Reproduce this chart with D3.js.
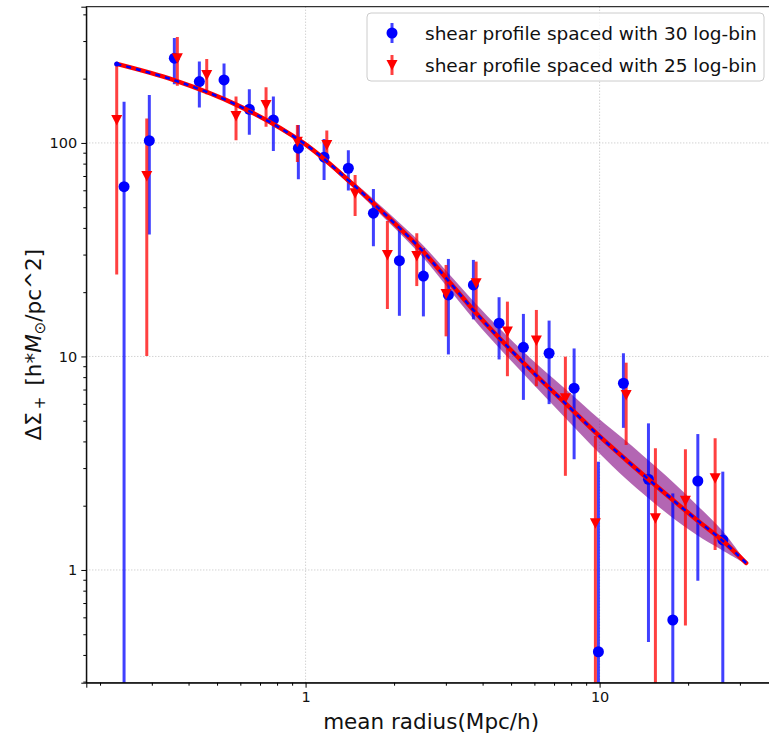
<!DOCTYPE html>
<html>
<head>
<meta charset="utf-8">
<script src="https://cdn.jsdelivr.net/npm/d3@7"></script>
<style>
  body { margin: 0; background: #fff; }
  svg { display: block; font-family: "DejaVu Sans", sans-serif; }
</style>
</head>
<body>
<svg id="chart" width="769" height="737"></svg>
<script>
// shear profile, 30 log-bins: radius (Mpc/h), delta sigma, symmetric error
const blueX = [0.2414, 0.2942, 0.3579, 0.4353, 0.5281, 0.6438, 0.7771, 0.9452, 1.156, 1.398,
  1.701, 2.085, 2.516, 3.060, 3.722, 4.551, 5.506, 6.733, 8.190, 9.906,
  12.05, 14.66, 17.74, 21.58, 26.24]
const blueY = [62.4, 102.5, 249.3, 193.7, 197.3, 143.8, 128.2, 94.5, 85.7, 76.1,
  46.85, 28.1, 23.8, 19.42, 21.62, 14.31, 11.04, 10.35, 7.10, 0.414,
  7.49, 2.66, 0.583, 2.61, 1.382]
const blueErr = [93.7, 65.3, 61, 47, 38, 34.6, 36.6, 26.9, 18.7, 16.3,
  14.0, 12.6, 8.4, 9.2, 6.7, 4.63, 4.78, 4.37, 3.8, 2.80,
  2.86, 2.2, 1.70, 1.72, 1.505]

// shear profile, 25 log-bins
const redX = [0.2279, 0.2884, 0.3664, 0.4612, 0.5801, 0.7339, 0.9378, 1.181, 1.474, 1.898,
  2.389, 3.005, 3.802, 4.858, 6.095, 7.649, 9.676, 12.31, 15.48, 19.58, 24.71]
const redY = [128.2, 70.05, 249.3, 208.2, 133.8, 150.7, 101.4, 97.9, 58.15, 29.88,
  29.56, 19.62, 22.02, 13.07, 11.88, 6.37, 1.654, 6.60, 1.746, 2.112, 2.689]
const redErr = [104, 60, 64, 39, 31, 31.7, 20, 16.3, 12.65, 13.2,
  8.2, 7.2, 5.8, 4.99, 4.63, 3.61, 2.59, 2.75, 1.97, 1.563, 1.45]

// fitted model and its uncertainty band
const modelX = [0.2279, 0.355, 0.583, 0.983, 1.417, 1.889, 2.485, 3.022, 3.772, 4.587,
  6.114, 7.937, 9.883, 12.31, 14.62, 17.74, 21.41, 26.03, 31.5]
const modelY = [234.4, 197.3, 150.7, 100, 65.7, 45.5, 31.5, 23.07, 16.16, 12.08,
  8.10, 5.74, 4.29, 3.275, 2.668, 2.128, 1.715, 1.382, 1.078]
const bandHigh = [236.9, 199.4, 153.2, 102.2, 67.9, 47.8, 33.6, 25.01, 17.81, 13.46,
  9.22, 6.75, 5.15, 4.02, 3.275, 2.584, 2.016, 1.539, 1.090]
const bandLow = [231.9, 195.2, 148.3, 97.9, 63.6, 43.3, 29.5, 21.28, 14.67, 10.84,
  7.12, 4.88, 3.57, 2.668, 2.173, 1.752, 1.459, 1.241, 1.066]

const xTickValues = [1, 10]
const yTickValues = [1, 10, 100]
const legendLabels = ['shear profile spaced with 30 log-bin', 'shear profile spaced with 25 log-bin']

const marginLeft = 86.3
const marginTop = 6.7
const plotRight = 776
const plotBottom = 682.7

const svg = d3.select('#chart')

const x = d3.scaleLog().domain([0.1796, 39.8]).range([marginLeft, plotRight])
const y = d3.scaleLog().domain([0.2965, 434.5]).range([plotBottom, marginTop])

svg.append('defs').append('clipPath').attr('id', 'plot')
  .append('rect')
  .attr('x', marginLeft).attr('y', marginTop)
  .attr('width', plotRight - marginLeft).attr('height', plotBottom - marginTop)

// grid
const grid = svg.append('g').attr('stroke', '#b0b0b0').attr('stroke-width', 0.8)
  .attr('stroke-dasharray', '1,2')
grid.selectAll('.gx').data(xTickValues).join('line')
  .attr('x1', d => x(d)).attr('x2', d => x(d))
  .attr('y1', marginTop).attr('y2', plotBottom)
grid.selectAll('.gy').data(yTickValues).join('line')
  .attr('y1', d => y(d)).attr('y2', d => y(d))
  .attr('x1', marginLeft).attr('x2', plotRight)

const plot = svg.append('g').attr('clip-path', 'url(#plot)')

// band
const modelData = modelX.map((d, i) => ({ x: d, y: modelY[i], lo: bandLow[i], hi: bandHigh[i] }))
plot.append('path')
  .datum(modelData)
  .attr('fill', 'purple')
  .attr('fill-opacity', 0.6)
  .attr('d', d3.area().curve(d3.curveCatmullRom)
    .x(d => x(d.x)).y0(d => y(d.lo)).y1(d => y(d.hi)))

function errLow(v, e) {
  return v - e > 0 ? y(v - e) : plotBottom + 10
}

const blueData = blueX.map((d, i) => ({ x: d, y: blueY[i], e: blueErr[i] }))
const redData = redX.map((d, i) => ({ x: d, y: redY[i], e: redErr[i] }))

// error bars
plot.selectAll('.ebBlue').data(blueData).join('line')
  .attr('x1', d => x(d.x)).attr('x2', d => x(d.x))
  .attr('y1', d => y(d.y + d.e)).attr('y2', d => errLow(d.y, d.e))
  .attr('stroke', 'blue').attr('stroke-opacity', 0.75).attr('stroke-width', 3)
plot.selectAll('.ebRed').data(redData).join('line')
  .attr('x1', d => x(d.x)).attr('x2', d => x(d.x))
  .attr('y1', d => y(d.y + d.e)).attr('y2', d => errLow(d.y, d.e))
  .attr('stroke', 'red').attr('stroke-opacity', 0.75).attr('stroke-width', 3)

const tri = 'M-5.5,-5L5.5,-5L0,5.5Z'

plot.selectAll('.mBlue').data(blueData).join('circle')
  .attr('cx', d => x(d.x)).attr('cy', d => y(d.y)).attr('r', 5.5)
  .attr('fill', 'blue')
plot.selectAll('.mRed').data(redData).join('path')
  .attr('d', tri)
  .attr('transform', d => `translate(${x(d.x)},${y(d.y)})`)
  .attr('fill', 'red')

// model lines
const line = d3.line().curve(d3.curveCatmullRom).x(d => x(d.x)).y(d => y(d.y))
plot.append('path').datum(modelData)
  .attr('fill', 'none').attr('stroke', 'red').attr('stroke-width', 4.5)
  .attr('stroke-linecap', 'round')
  .attr('d', line)
plot.append('path').datum(modelData)
  .attr('fill', 'none').attr('stroke', 'blue').attr('stroke-width', 2.5)
  .attr('stroke-dasharray', '5,5')
  .attr('d', line)
plot.append('circle')
  .attr('cx', x(modelX[0])).attr('cy', y(modelY[0])).attr('r', 2.5).attr('fill', 'blue')

// axes
const minorX = x.ticks().filter(d => !xTickValues.includes(d))
const minorY = y.ticks().filter(d => !yTickValues.includes(d))

const xAxis = svg.append('g').attr('transform', `translate(0,${plotBottom})`)
  .call(d3.axisBottom(x).tickValues(xTickValues).tickFormat(d3.format('d'))
    .tickSize(5).tickPadding(4))
xAxis.append('g')
  .call(d3.axisBottom(x).tickValues(minorX).tickFormat('').tickSize(3))
  .select('.domain').remove()

const yAxis = svg.append('g').attr('transform', `translate(${marginLeft},0)`)
  .call(d3.axisLeft(y).tickValues(yTickValues).tickFormat(d3.format('d'))
    .tickSize(5).tickPadding(4))
yAxis.append('g')
  .call(d3.axisLeft(y).tickValues(minorY).tickFormat('').tickSize(3))
  .select('.domain').remove()

svg.selectAll('.tick text').attr('font-size', 14.5).attr('fill', '#111')
  .attr('font-family', '"DejaVu Sans", sans-serif')
svg.selectAll('.domain').attr('stroke', '#000')

// frame
svg.append('rect')
  .attr('x', marginLeft).attr('y', marginTop)
  .attr('width', plotRight - marginLeft).attr('height', plotBottom - marginTop)
  .attr('fill', 'none').attr('stroke', '#000').attr('stroke-width', 1)

// axis labels
svg.append('text')
  .attr('x', (marginLeft + plotRight) / 2).attr('y', 729)
  .attr('text-anchor', 'middle').attr('font-size', 21.5).attr('fill', '#111')
  .text('mean radius(Mpc/h)')

const yl = svg.append('text')
  .attr('transform', `translate(41,${(marginTop + plotBottom) / 2}) rotate(-90)`)
  .attr('text-anchor', 'middle').attr('font-size', 21.5).attr('fill', '#111')
yl.append('tspan').text('ΔΣ')
yl.append('tspan').attr('dy', 4).attr('font-size', 15).text('\u2009+')
yl.append('tspan').attr('dy', -4).text('\u2009 [h*')
yl.append('tspan').attr('font-style', 'italic').text('M')
yl.append('tspan').attr('dy', 4).attr('font-size', 15).text('⊙')
yl.append('tspan').attr('dy', -4).text('/pc^2]')

// legend
const lg = svg.append('g')
lg.append('rect')
  .attr('x', 367).attr('y', 13).attr('width', 397).attr('height', 68).attr('rx', 4)
  .attr('fill', '#fff').attr('fill-opacity', 0.8).attr('stroke', '#ccc')
const legendColors = ['blue', 'red']
legendLabels.forEach((label, i) => {
  const cy = 33 + i * 32
  lg.append('line').attr('x1', 392).attr('x2', 392).attr('y1', cy - 10).attr('y2', cy + 10)
    .attr('stroke', legendColors[i]).attr('stroke-opacity', 0.75).attr('stroke-width', 3)
  if (i === 0) {
    lg.append('circle').attr('cx', 392).attr('cy', cy).attr('r', 5.5).attr('fill', 'blue')
  } else {
    lg.append('path').attr('d', tri).attr('transform', `translate(392,${cy})`).attr('fill', 'red')
  }
  lg.append('text').attr('x', 425).attr('y', cy).attr('dy', '0.36em')
    .attr('font-size', 18.5).attr('fill', '#111').text(label)
})
</script>
</body>
</html>
